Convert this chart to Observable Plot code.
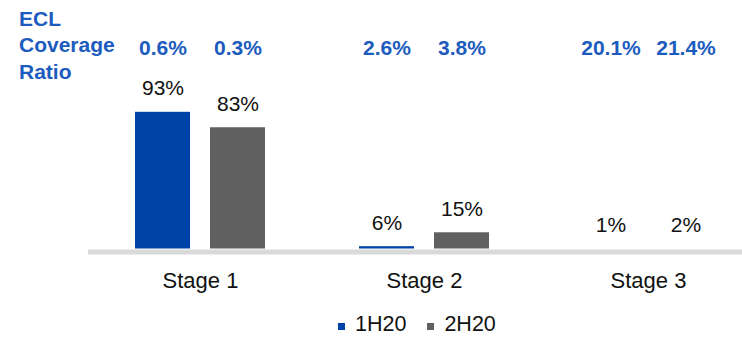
<!DOCTYPE html>
<html>
<head>
<meta charset="utf-8">
<script src="https://cdn.jsdelivr.net/npm/d3@7"></script>
<script src="https://cdn.jsdelivr.net/npm/@observablehq/plot@0.6"></script>
<style>
  html, body { margin: 0; padding: 0; background: #fff; }
  #wrap { position: relative; width: 742px; height: 337px; overflow: hidden; font-family: "Liberation Sans", Arial, sans-serif; }
  #wrap svg { max-width: none !important; position: absolute; left: 0; top: 0; }
  #ecl { position: absolute; left: 19px; top: 5.5px; font-size: 21px; line-height: 26.5px; font-weight: bold; color: #1C5CBE; }
  #legend { position: absolute; left: 338px; top: 314px; height: 21px; display: flex; align-items: flex-start; font-size: 21.5px; line-height: 21px; color: #111; }
  #legend .item { display: flex; align-items: flex-start; margin-right: 21px; }
  #legend .sw { width: 7px; height: 7px; margin-top: 9px; margin-right: 10px; }
</style>
</head>
<body>
<div id="wrap">
  <div id="ecl"></div>
  <div id="legend"></div>
</div>
<script>
// ---- data ----
const stages = ["Stage 1", "Stage 2", "Stage 3"];
const periods = ["1H20", "2H20"];
const share1H20 = [93, 6, 1];
const share2H20 = [83, 15, 2];
const eclRatio1H20 = [0.6, 2.6, 20.1];
const eclRatio2H20 = [0.3, 3.8, 21.4];
const eclTitleLines = ["ECL", "Coverage", "Ratio"];
const seriesColors = ["#0043A8", "#606060"];
const axisBase = 4.5;   // value axis starts slightly above zero in the source
const axisTop = 100;

// ---- table ----
const rows = [];
stages.forEach((s, i) => {
  rows.push({stage: s, period: periods[0], share: share1H20[i], ecl: eclRatio1H20[i]});
  rows.push({stage: s, period: periods[1], share: share2H20[i], ecl: eclRatio2H20[i]});
});

const labelBlue = "#1C5CBE";

const chart = Plot.plot({
  width: 760,
  height: 300,
  marginLeft: 88,
  marginRight: 0,
  marginTop: 101,
  marginBottom: 51.5,
  facet: {marginTop: 0, marginRight: 0, marginBottom: 0, marginLeft: 0},
  style: {fontFamily: "'Liberation Sans', Arial, sans-serif", fontSize: "22px", color: "#111", background: "transparent", maxWidth: "none"},
  fx: {domain: stages, paddingInner: 0, paddingOuter: 0, axis: "bottom", label: null, tickSize: 0, tickPadding: 23},
  x: {domain: periods, paddingInner: 0.27, paddingOuter: 0.62, axis: null},
  y: {domain: [axisBase, axisTop], axis: null},
  color: {domain: periods, range: seriesColors},
  marks: [
    Plot.barY(rows, {fx: "stage", x: "period", y: "share", fill: "period", clip: true}),
    Plot.ruleY([axisBase], {stroke: "#d9d9d9", strokeWidth: 5, dy: 3}),
    Plot.text(rows, {fx: "stage", x: "period", y: d => Math.max(d.share, axisBase), text: d => d.share + "%",
      lineAnchor: "bottom", dy: -17, fontSize: 21, fill: "#111"}),
    Plot.text(rows, {fx: "stage", x: "period", frameAnchor: "top", text: d => d.ecl.toFixed(1) + "%",
      lineAnchor: "bottom", dy: -47, fontSize: 21, fontWeight: "bold", fill: labelBlue})
  ]
});
document.getElementById("wrap").appendChild(chart);

// ECL title
const ecl = document.getElementById("ecl");
eclTitleLines.forEach(t => { const d = document.createElement("div"); d.textContent = t; ecl.appendChild(d); });
ecl.style.color = labelBlue;

// legend
const legend = document.getElementById("legend");
periods.forEach((p, i) => {
  const item = document.createElement("div"); item.className = "item";
  const sw = document.createElement("span"); sw.className = "sw"; sw.style.background = seriesColors[i];
  const tx = document.createElement("span"); tx.textContent = p;
  item.appendChild(sw); item.appendChild(tx); legend.appendChild(item);
});
</script>
</body>
</html>
